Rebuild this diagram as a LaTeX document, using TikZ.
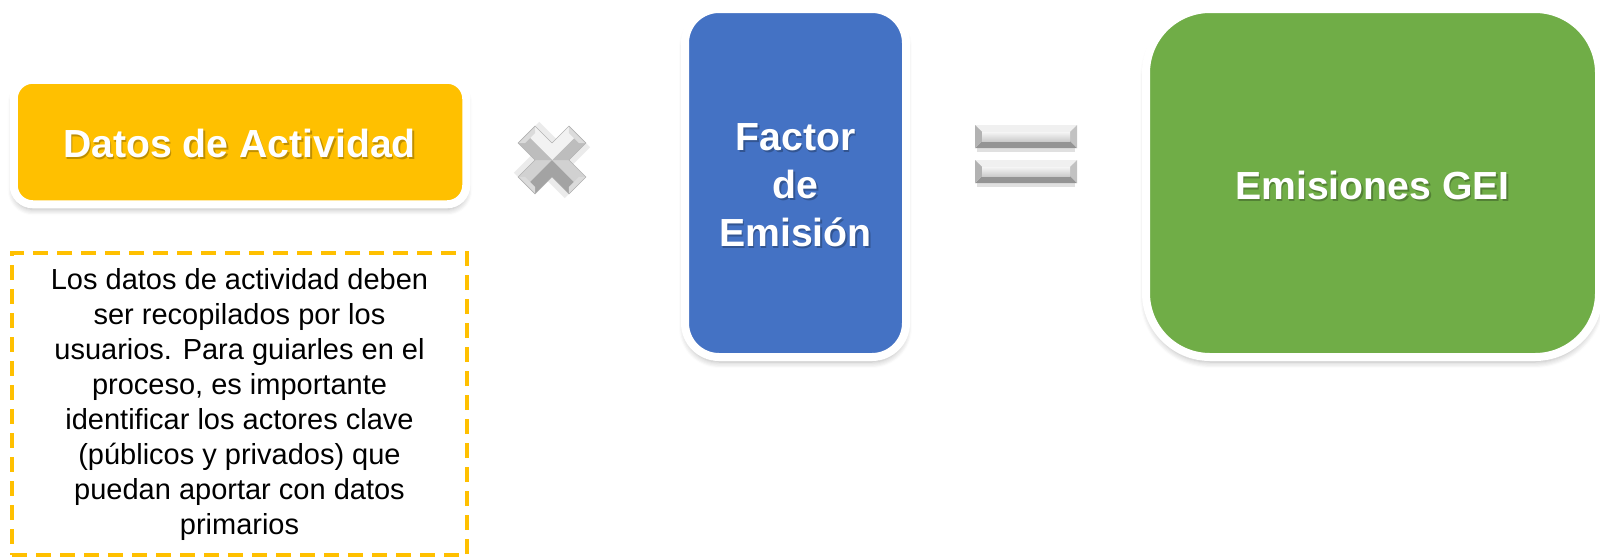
\documentclass[tikz,border=0pt]{standalone}
\usepackage{fontspec}
\setmainfont{Liberation Sans}
\usetikzlibrary{shadows.blur}
\definecolor{cyellow}{HTML}{FFC000}
\definecolor{cblue}{HTML}{4472C4}
\definecolor{cgreen}{HTML}{70AD47}
\begin{document}
\begin{tikzpicture}[x=0.5pt,y=-0.5pt,
  box/.style={draw=white, line width=4pt, inner sep=0pt,
    blur shadow={shadow xshift=0pt, shadow yshift=-2.5pt, shadow blur radius=3pt, shadow blur steps=6, shadow opacity=30}},
  title/.style={font=\bfseries\fontsize{19.6}{24}\selectfont, text=white, align=center, inner sep=0pt},
  tshadow/.style={title, text=black, opacity=.25},
  notebox/.style={draw=cyellow, line width=2pt, dash pattern=on 7.5pt off 4.5pt,
    align=center, font=\fontsize{14.5}{17.5}\selectfont, text=black,
    minimum width=227.5pt, minimum height=151pt, inner sep=0pt}
]
\useasboundingbox (0,0) rectangle (1600,558);

% boxes
\node[box, fill=cyellow, rounded corners=9.5pt, minimum width=226.25pt, minimum height=62.25pt] (datos) at (240,142) {};
\node[box, fill=cblue, rounded corners=17pt, minimum width=110.5pt, minimum height=174pt] (factor) at (795.5,183) {};
\node[box, fill=cgreen, rounded corners=32pt, minimum width=226.5pt, minimum height=174pt] (emis) at (1372.5,183) {};

% titles with text shadow
\node[tshadow] (datosS) at (241,145) {Datos de Actividad};
\node[title] (datosT) at (239.5,143) {Datos de Actividad};
\node[tshadow] (factorS) at (797,187) {Factor\\de\\Emisión};
\node[title] (factorT) at (795.5,185) {Factor\\de\\Emisión};
\node[tshadow] (emisS) at (1374,187) {Emisiones GEI};
\node[title] (emisT) at (1372.5,185) {Emisiones GEI};

% dashed note
\node[notebox] (note) at (239.5,404) {Los datos de actividad deben\\
ser recopilados por los\\
usuarios. Para guiarles en el\\
proceso, es importante\\
identificar los actores clave\\
(públicos y privados) que\\
puedan aportar con datos\\
primarios};

% multiplication sign
\begin{scope}[shift={(552,160)}]
  \foreach \a in {45,135,225,315}{
    \fill[black, opacity=.08, rotate=\a, yshift=-3pt] (0,-12) -- (36,-12) -- (36,12) -- (0,12) -- cycle;
  }
  \foreach \a/\ca/\cb in {225/black!18/black!36, 315/black!36/black!18, 45/black!26/black!5, 135/black!5/black!26}{
    \begin{scope}[rotate=\a]
      \fill[\ca] (0,0) -- (12,12) -- (36,12) -- (36,0) -- cycle;
      \fill[\cb] (0,0) -- (12,-12) -- (36,-12) -- (36,0) -- cycle;
      \fill[black!14] (36,-12) -- (36,12) -- (31,7) -- (31,-7) -- cycle;
      \draw[black!30, line width=.3pt] (12,12) -- (36,12) -- (36,-12) -- (12,-12);
    \end{scope}
  }
\end{scope}

% equals sign
\foreach \y in {125,160}{
  \fill[black, opacity=.12] (977,\y+4) rectangle (1075,\y+27);
  \fill[black!6] (975,\y) -- (1077,\y) -- (1070,\y+7) -- (982,\y+7) -- cycle;
  \fill[black!42] (975,\y+23) -- (1077,\y+23) -- (1070,\y+16) -- (982,\y+16) -- cycle;
  \fill[black!30] (975,\y) -- (982,\y+7) -- (982,\y+16) -- (975,\y+23) -- cycle;
  \fill[black!24] (1077,\y) -- (1070,\y+7) -- (1070,\y+16) -- (1077,\y+23) -- cycle;
  \shade[top color=black!4, bottom color=black!20] (982,\y+7) rectangle (1070,\y+16);
}
\end{tikzpicture}
\end{document}
